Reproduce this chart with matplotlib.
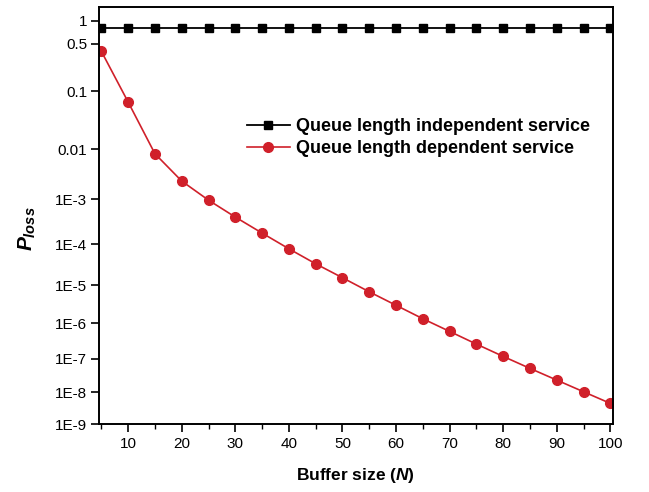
import numpy as np
from matplotlib import pyplot as plt

# buffer size N
N = [5, 10, 15, 20, 25, 30, 35, 40, 45, 50, 55, 60, 65, 70, 75, 80, 85, 90, 95, 100]
# loss probability, queue length independent service
p_indep = [0.82] * 20
# loss probability, queue length dependent service
p_dep = [0.395, 0.0672, 0.0082, 2.39e-3, 9.6e-4, 4.14e-4, 1.81e-4, 7.83e-5, 3.42e-5, 1.55e-5,
         6.82e-6, 3.04e-6, 1.33e-6, 6.0e-7, 2.65e-7, 1.18e-7, 5.28e-8, 2.37e-8, 1.05e-8, 4.6e-9]

yticks = [1, 0.5, 0.1, 0.01, 1e-3, 1e-4, 1e-5, 1e-6, 1e-7, 1e-8, 1e-9]
ytick_labels = ['1', '0.5', '0.1', '0.01', '1E-3', '1E-4', '1E-5', '1E-6', '1E-7', '1E-8', '1E-9']

# compressed log axis of the original figure
C = 1.58
def fwd(y):
    y = np.clip(y, 1e-300, 10 ** C)
    return -np.sqrt(C - np.log10(y))
def inv(t):
    return 10 ** (C - np.asarray(t) ** 2)

plt.rcParams['font.family'] = ['Liberation Sans', 'DejaVu Sans']
plt.rcParams['mathtext.fontset'] = 'custom'
plt.rcParams['mathtext.it'] = 'Liberation Sans:italic:bold'
plt.rcParams['mathtext.bf'] = 'Liberation Sans:bold'
plt.rcParams['mathtext.rm'] = 'Liberation Sans:bold'

fig = plt.figure(figsize=(6.49, 4.92), dpi=100)
ax = fig.add_axes([0.1525, 0.1376, 0.792, 0.8488])
ax.set_yscale('function', functions=(fwd, inv))

red = '#d0202a'
ax.plot(N, p_indep, color='black', lw=1.3, marker='s', ms=5.5, label='Queue length independent service')
ax.plot(N, p_dep, color=red, lw=1.2, marker='o', ms=7, mec=red, label='Queue length dependent service')

ax.set_xlim(4.55, 100.5)
ax.set_ylim(1e-9, 1.48)
ax.set_xticks(range(10, 101, 10))
ax.set_xticks(range(5, 101, 10), minor=True)
ax.set_yticks(yticks)
ax.set_yticklabels(ytick_labels)
ax.yaxis.set_minor_locator(plt.NullLocator())
ax.tick_params(axis='both', which='major', direction='out', length=5.5, width=1.2, labelsize=11, colors='black')
ax.tick_params(axis='y', which='major', pad=3)
ax.tick_params(axis='x', which='minor', direction='out', length=3.5, width=1.0)
for s in ax.spines.values():
    s.set_linewidth(1.4)

ax.set_xlabel('Buffer size ($\\mathit{N}$)', fontsize=12.5, fontweight='bold', labelpad=11)
ax.set_ylabel('$\\mathit{P}_{\\mathit{loss}}$', fontsize=15)
ax.yaxis.set_label_coords(-0.118, 0.468)

ax.legend(loc='upper left', bbox_to_anchor=(0.27, 0.755), frameon=False, borderpad=0,
          handlelength=2.4, handletextpad=0.3, labelspacing=0.3,
          prop={'weight': 'bold', 'size': 13})

plt.savefig('out.png', dpi=100)
